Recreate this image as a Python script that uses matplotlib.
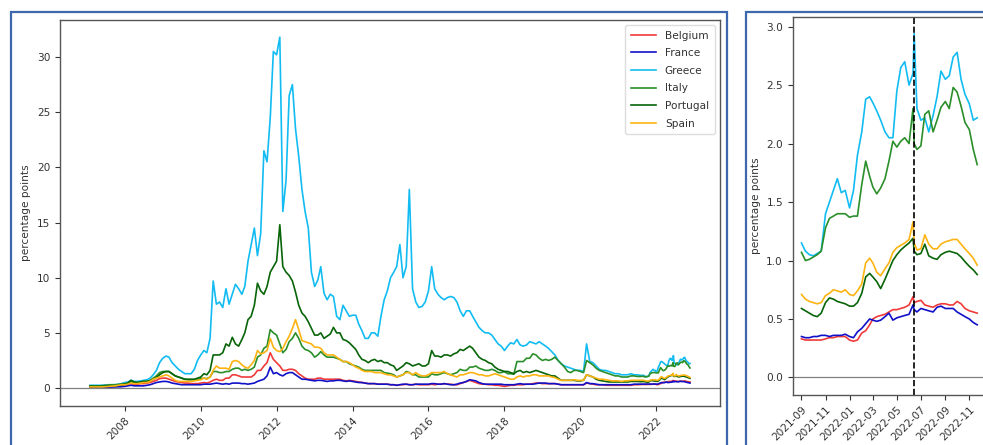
import matplotlib
matplotlib.use("Agg")
import matplotlib.pyplot as plt
import matplotlib.dates as mdates
from matplotlib.patches import Rectangle
import pandas as pd

countries = ["Belgium", "France", "Greece", "Italy", "Portugal", "Spain"]
line_colors = ["#f03a3a", "#1010c8", "#12bcf2", "#2a8f2a", "#086408", "#fdb412"]

# ---- long history, monthly, 2007-02 .. 2021-08 ----
long_start = "2007-02-01"
long_end = "2021-08-01"

belgium_m = [
    0.05, 0.05, 0.05, 0.05, 0.07, 0.10, 0.12, 0.15, 0.15, 0.18, 0.20,
    0.25, 0.30, 0.40, 0.35, 0.35, 0.40, 0.40, 0.45, 0.50, 0.60, 0.70, 0.85,
    0.90, 0.90, 0.80, 0.70, 0.60, 0.55, 0.50, 0.45, 0.45, 0.40, 0.40, 0.40,
    0.45, 0.50, 0.45, 0.55, 0.70, 0.80, 0.70, 0.70, 0.90, 0.90, 1.20, 1.20,
    1.10, 1.00, 1.00, 1.00, 1.00, 1.20, 1.60, 1.60, 2.00, 2.30, 3.20, 2.60,
    2.30, 2.00, 1.60, 1.60, 1.70, 1.70, 1.60, 1.30, 1.10, 0.90, 0.80, 0.80,
    0.80, 0.90, 0.90, 0.80, 0.80, 0.80, 0.80, 0.80, 0.80, 0.70, 0.65, 0.70,
    0.65, 0.60, 0.55, 0.50, 0.45, 0.40, 0.40, 0.40, 0.35, 0.35, 0.35, 0.35,
    0.30, 0.30, 0.25, 0.30, 0.30, 0.35, 0.30, 0.30, 0.35, 0.30, 0.30, 0.30,
    0.30, 0.35, 0.30, 0.35, 0.35, 0.40, 0.35, 0.35, 0.30, 0.30, 0.40, 0.50,
    0.60, 0.70, 0.60, 0.50, 0.40, 0.35, 0.35, 0.30, 0.30, 0.25, 0.25, 0.20,
    0.15, 0.20, 0.25, 0.25, 0.30, 0.30, 0.30, 0.35, 0.35, 0.40, 0.45, 0.45,
    0.40, 0.40, 0.40, 0.40, 0.40, 0.35, 0.30, 0.30, 0.30, 0.30, 0.30, 0.30,
    0.30, 0.30, 0.45, 0.40, 0.35, 0.30, 0.30, 0.30, 0.25, 0.25, 0.25, 0.25,
    0.25, 0.25, 0.25, 0.25, 0.25, 0.30, 0.30, 0.32,
]
france_m = [
    0.05, 0.05, 0.05, 0.05, 0.05, 0.07, 0.08, 0.10, 0.10, 0.10, 0.12,
    0.15, 0.20, 0.25, 0.20, 0.20, 0.20, 0.20, 0.25, 0.30, 0.40, 0.50, 0.55,
    0.60, 0.60, 0.55, 0.45, 0.40, 0.35, 0.30, 0.30, 0.30, 0.30, 0.30, 0.30,
    0.30, 0.35, 0.35, 0.35, 0.40, 0.45, 0.40, 0.35, 0.40, 0.35, 0.45, 0.45,
    0.45, 0.40, 0.40, 0.35, 0.40, 0.45, 0.60, 0.70, 0.80, 1.10, 1.90, 1.30,
    1.40, 1.20, 1.10, 1.30, 1.40, 1.40, 1.20, 1.00, 0.80, 0.80, 0.75, 0.70,
    0.65, 0.70, 0.70, 0.65, 0.60, 0.65, 0.65, 0.70, 0.70, 0.65, 0.60, 0.65,
    0.60, 0.55, 0.50, 0.50, 0.45, 0.40, 0.40, 0.40, 0.35, 0.35, 0.35, 0.35,
    0.30, 0.30, 0.25, 0.30, 0.35, 0.35, 0.30, 0.30, 0.35, 0.35, 0.35, 0.35,
    0.35, 0.40, 0.40, 0.35, 0.35, 0.40, 0.35, 0.30, 0.30, 0.35, 0.45, 0.50,
    0.60, 0.75, 0.70, 0.65, 0.50, 0.40, 0.35, 0.35, 0.35, 0.35, 0.35, 0.35,
    0.30, 0.30, 0.30, 0.30, 0.35, 0.40, 0.35, 0.35, 0.35, 0.35, 0.40, 0.45,
    0.45, 0.45, 0.40, 0.40, 0.40, 0.35, 0.30, 0.30, 0.30, 0.30, 0.30, 0.30,
    0.30, 0.30, 0.50, 0.40, 0.40, 0.35, 0.30, 0.30, 0.30, 0.30, 0.30, 0.30,
    0.30, 0.30, 0.30, 0.30, 0.30, 0.35, 0.35, 0.35,
]
greece_m = [
    0.25, 0.25, 0.25, 0.25, 0.25, 0.28, 0.30, 0.30, 0.30, 0.35, 0.40,
    0.50, 0.55, 0.70, 0.60, 0.60, 0.65, 0.70, 0.75, 0.90, 1.20, 1.60, 2.30,
    2.70, 2.90, 2.80, 2.30, 2.00, 1.70, 1.50, 1.30, 1.30, 1.30, 1.70, 2.50,
    3.00, 3.40, 3.20, 4.50, 9.70, 7.60, 7.80, 7.30, 9.00, 7.60, 8.50, 9.40,
    9.00, 8.50, 9.20, 11.50, 13.00, 14.50, 12.00, 14.00, 21.50, 20.50, 24.50, 30.50,
    30.20, 31.80, 16.00, 18.80, 26.50, 27.50, 23.50, 21.00, 18.00, 16.00, 14.50, 10.50,
    9.20, 9.80, 11.00, 8.60, 8.00, 8.50, 8.30, 6.50, 6.20, 7.50, 7.00, 6.50,
    6.60, 6.60, 5.80, 5.20, 4.50, 4.50, 5.00, 5.00, 4.70, 6.50, 8.00, 8.80,
    10.00, 10.50, 11.00, 13.00, 10.00, 11.00, 18.00, 9.00, 7.80, 7.30, 7.40, 7.80,
    8.80, 11.00, 9.00, 8.50, 8.20, 8.00, 8.20, 8.30, 8.20, 7.80, 7.00, 6.50,
    7.00, 7.00, 6.50, 6.00, 5.50, 5.20, 5.00, 5.00, 4.80, 4.40, 4.00, 3.80,
    3.40, 3.80, 4.10, 4.00, 4.40, 3.90, 3.80, 3.90, 4.20, 4.10, 4.00, 4.20,
    4.00, 3.80, 3.60, 3.30, 3.00, 2.50, 2.20, 2.00, 1.90, 1.80, 1.70, 1.60,
    1.60, 1.50, 4.00, 2.40, 2.30, 2.00, 1.70, 1.60, 1.60, 1.50, 1.40, 1.30,
    1.30, 1.20, 1.20, 1.20, 1.30, 1.20, 1.20, 1.15,
]
italy_m = [
    0.20, 0.20, 0.20, 0.20, 0.22, 0.25, 0.28, 0.30, 0.30, 0.33, 0.38,
    0.40, 0.45, 0.60, 0.50, 0.50, 0.55, 0.60, 0.60, 0.70, 0.90, 1.10, 1.40,
    1.50, 1.50, 1.50, 1.30, 1.10, 1.00, 0.90, 0.80, 0.75, 0.75, 0.75, 0.80,
    0.85, 0.90, 0.85, 1.00, 1.50, 1.50, 1.40, 1.40, 1.50, 1.50, 1.70, 1.80,
    1.80, 1.60, 1.70, 1.60, 1.70, 1.90, 2.80, 3.00, 3.60, 3.80, 5.30, 5.00,
    4.80, 4.00, 3.20, 3.50, 4.20, 4.50, 5.00, 4.50, 3.80, 3.50, 3.40, 3.20,
    2.80, 3.00, 3.30, 3.00, 2.80, 2.80, 2.80, 2.70, 2.60, 2.40, 2.40, 2.20,
    2.10, 2.00, 1.90, 1.70, 1.60, 1.60, 1.60, 1.60, 1.60, 1.60, 1.40, 1.35,
    1.30, 1.20, 1.00, 1.10, 1.20, 1.50, 1.40, 1.20, 1.20, 1.00, 1.00, 1.00,
    1.00, 1.30, 1.20, 1.20, 1.30, 1.40, 1.30, 1.20, 1.30, 1.40, 1.70, 1.60,
    1.60, 1.90, 1.90, 2.00, 1.80, 1.70, 1.60, 1.60, 1.70, 1.60, 1.40, 1.40,
    1.50, 1.30, 1.30, 1.25, 2.40, 2.40, 2.40, 2.70, 2.70, 3.10, 3.00, 2.70,
    2.50, 2.60, 2.50, 2.60, 2.80, 2.50, 2.20, 1.90, 1.50, 1.40, 1.60, 1.60,
    1.50, 1.40, 2.50, 2.30, 2.10, 1.80, 1.60, 1.50, 1.40, 1.30, 1.20, 1.10,
    1.10, 1.00, 1.00, 1.00, 1.10, 1.10, 1.05, 1.05,
]
portugal_m = [
    0.15, 0.15, 0.15, 0.15, 0.15, 0.18, 0.20, 0.20, 0.20, 0.25, 0.30,
    0.35, 0.45, 0.70, 0.55, 0.50, 0.55, 0.60, 0.60, 0.65, 0.80, 0.95, 1.20,
    1.40, 1.50, 1.50, 1.30, 1.10, 1.00, 0.90, 0.80, 0.80, 0.80, 0.80, 0.90,
    1.00, 1.30, 1.20, 1.60, 3.00, 3.00, 3.00, 3.20, 4.00, 3.80, 4.60, 4.00,
    3.80, 4.40, 5.00, 6.20, 6.50, 7.50, 9.50, 8.80, 8.50, 9.20, 10.50, 11.00,
    11.50, 14.80, 11.00, 10.50, 10.20, 9.70, 8.70, 7.50, 6.80, 6.50, 6.00, 5.40,
    4.80, 4.80, 5.00, 4.50, 4.70, 4.90, 5.50, 5.00, 5.00, 4.40, 4.30, 4.10,
    3.80, 3.50, 3.00, 2.60, 2.50, 2.30, 2.50, 2.60, 2.40, 2.50, 2.30, 2.30,
    2.10, 2.00, 1.60, 1.80, 2.00, 2.30, 2.20, 2.00, 2.10, 2.20, 2.00, 2.00,
    2.20, 3.40, 2.90, 2.90, 2.80, 3.00, 3.00, 2.90, 3.10, 3.20, 3.50, 3.40,
    3.60, 3.80, 3.60, 3.20, 2.80, 2.60, 2.50, 2.30, 2.20, 1.90, 1.70, 1.60,
    1.50, 1.50, 1.40, 1.30, 1.50, 1.60, 1.40, 1.50, 1.40, 1.50, 1.60, 1.50,
    1.40, 1.30, 1.20, 1.10, 1.10, 0.90, 0.70, 0.70, 0.70, 0.70, 0.70, 0.65,
    0.65, 0.70, 1.20, 1.10, 1.00, 0.80, 0.70, 0.65, 0.60, 0.55, 0.55, 0.55,
    0.55, 0.55, 0.55, 0.55, 0.60, 0.60, 0.60, 0.58,
]
spain_m = [
    0.10, 0.10, 0.10, 0.10, 0.10, 0.12, 0.15, 0.18, 0.20, 0.25, 0.30,
    0.30, 0.35, 0.45, 0.40, 0.40, 0.45, 0.50, 0.50, 0.60, 0.80, 0.90, 1.00,
    1.10, 1.20, 1.10, 0.90, 0.70, 0.60, 0.60, 0.60, 0.60, 0.60, 0.65, 0.70,
    0.75, 0.90, 0.80, 1.00, 1.60, 2.00, 1.80, 1.80, 1.80, 1.70, 2.40, 2.50,
    2.40, 2.10, 1.90, 1.80, 2.10, 2.50, 3.40, 3.10, 3.20, 3.40, 4.50, 3.70,
    3.40, 3.30, 3.60, 4.20, 4.70, 5.40, 6.20, 5.30, 4.30, 4.20, 4.10, 4.00,
    3.70, 3.70, 3.60, 3.20, 3.00, 3.00, 3.00, 2.80, 2.60, 2.40, 2.40, 2.30,
    2.10, 1.90, 1.80, 1.60, 1.50, 1.50, 1.50, 1.40, 1.40, 1.40, 1.30, 1.20,
    1.20, 1.10, 1.00, 1.10, 1.20, 1.40, 1.40, 1.20, 1.40, 1.20, 1.10, 1.10,
    1.20, 1.40, 1.40, 1.40, 1.40, 1.50, 1.30, 1.20, 1.10, 1.00, 1.20, 1.20,
    1.30, 1.40, 1.40, 1.30, 1.20, 1.20, 1.10, 1.10, 1.20, 1.30, 1.20, 1.10,
    1.00, 0.90, 0.80, 0.80, 1.00, 1.10, 1.00, 1.10, 1.10, 1.20, 1.20, 1.10,
    1.10, 1.10, 1.10, 1.00, 0.95, 0.80, 0.70, 0.70, 0.70, 0.70, 0.75, 0.70,
    0.70, 0.70, 1.20, 1.10, 1.00, 0.90, 0.80, 0.80, 0.75, 0.70, 0.65, 0.65,
    0.65, 0.60, 0.65, 0.65, 0.70, 0.70, 0.70, 0.70,
]

# ---- recent period, roughly every 10 days, 2021-09 .. 2022-11 ----
recent_dates = [
    "2021-09-01", "2021-09-11", "2021-09-21", "2021-10-01", "2021-10-11", "2021-10-21",
    "2021-11-01", "2021-11-11", "2021-11-21", "2021-12-01", "2021-12-11", "2021-12-21",
    "2022-01-01", "2022-01-11", "2022-01-21", "2022-02-01", "2022-02-11", "2022-02-21",
    "2022-03-01", "2022-03-11", "2022-03-21", "2022-04-01", "2022-04-11", "2022-04-21",
    "2022-05-01", "2022-05-11", "2022-05-21", "2022-06-01", "2022-06-11", "2022-06-14",
    "2022-06-21", "2022-07-01", "2022-07-11", "2022-07-21", "2022-08-01", "2022-08-11",
    "2022-08-21", "2022-09-01", "2022-09-11", "2022-09-21", "2022-10-01", "2022-10-11",
    "2022-10-21", "2022-11-01", "2022-11-11", "2022-11-21",
]
belgium_r = [0.33, 0.32, 0.32, 0.32, 0.32, 0.32, 0.33, 0.34, 0.34, 0.35, 0.35, 0.35,
             0.32, 0.31, 0.32, 0.38, 0.40, 0.45, 0.50, 0.52, 0.53, 0.54, 0.56, 0.58,
             0.58, 0.59, 0.60, 0.62, 0.69, 0.64, 0.65, 0.66, 0.62, 0.61, 0.60, 0.62,
             0.63, 0.63, 0.62, 0.62, 0.65, 0.63, 0.59, 0.57, 0.56, 0.55]
france_r = [0.35, 0.34, 0.34, 0.35, 0.35, 0.36, 0.36, 0.35, 0.36, 0.36, 0.36, 0.37,
            0.35, 0.34, 0.39, 0.42, 0.46, 0.50, 0.49, 0.48, 0.49, 0.52, 0.55, 0.49,
            0.51, 0.52, 0.53, 0.54, 0.62, 0.58, 0.56, 0.59, 0.58, 0.57, 0.56, 0.60,
            0.61, 0.59, 0.59, 0.59, 0.56, 0.54, 0.52, 0.50, 0.47, 0.45]
greece_r = [1.15, 1.08, 1.05, 1.04, 1.06, 1.08, 1.40, 1.50, 1.60, 1.70, 1.58, 1.60,
            1.45, 1.60, 1.90, 2.10, 2.38, 2.40, 2.35, 2.28, 2.20, 2.10, 2.05, 2.05,
            2.45, 2.65, 2.70, 2.50, 2.60, 2.94, 2.30, 2.20, 2.22, 2.10, 2.24, 2.40,
            2.62, 2.55, 2.58, 2.74, 2.78, 2.55, 2.42, 2.34, 2.20, 2.22]
italy_r = [1.07, 1.00, 1.01, 1.03, 1.05, 1.08, 1.28, 1.36, 1.38, 1.40, 1.40, 1.40,
           1.37, 1.38, 1.38, 1.65, 1.85, 1.72, 1.63, 1.57, 1.62, 1.70, 1.85, 2.02,
           1.97, 2.02, 2.05, 2.00, 2.30, 2.00, 1.95, 1.98, 2.25, 2.28, 2.10, 2.20,
           2.31, 2.36, 2.30, 2.48, 2.44, 2.32, 2.18, 2.12, 1.95, 1.82]
portugal_r = [0.59, 0.57, 0.55, 0.53, 0.52, 0.55, 0.64, 0.68, 0.67, 0.65, 0.64, 0.63,
              0.61, 0.61, 0.64, 0.72, 0.86, 0.89, 0.86, 0.82, 0.76, 0.84, 0.92, 1.00,
              1.05, 1.09, 1.12, 1.15, 1.19, 1.08, 1.05, 1.06, 1.14, 1.04, 1.02, 1.01,
              1.05, 1.07, 1.08, 1.07, 1.06, 1.03, 0.99, 0.95, 0.92, 0.88]
spain_r = [0.71, 0.67, 0.65, 0.64, 0.63, 0.64, 0.70, 0.72, 0.75, 0.74, 0.73, 0.75,
           0.71, 0.70, 0.74, 0.80, 0.98, 1.02, 0.98, 0.90, 0.87, 0.93, 0.98, 1.07,
           1.11, 1.13, 1.15, 1.18, 1.33, 1.15, 1.09, 1.10, 1.22, 1.14, 1.10, 1.10,
           1.14, 1.16, 1.17, 1.18, 1.18, 1.14, 1.10, 1.06, 1.02, 0.96]

event_date = "2022-06-14"

long_series = [belgium_m, france_m, greece_m, italy_m, portugal_m, spain_m]
recent_series = [belgium_r, france_r, greece_r, italy_r, portugal_r, spain_r]

long_idx = pd.date_range(long_start, long_end, freq="MS")
recent_idx = pd.to_datetime(recent_dates)
full_idx = long_idx.append(recent_idx)

FS = 7.6
TXT = "#333333"
SP = "#555555"

fig = plt.figure(figsize=(9.83, 4.45), dpi=100)
W, H = 983.0, 445.0

# panel frames
border = "#3e68ad"
fig.patches.append(Rectangle((11 / W, -0.05), (727 - 11) / W, 1 - 12 / H + 0.05,
                             transform=fig.transFigure, fill=False,
                             edgecolor=border, linewidth=1.6))
fig.patches.append(Rectangle((746 / W, -0.05), 0.3, 1 - 12 / H + 0.05,
                             transform=fig.transFigure, fill=False,
                             edgecolor=border, linewidth=1.6))

ax1 = fig.add_axes([60 / W, 1 - 405.7 / H, 660 / W, 386.2 / H])
ax2 = fig.add_axes([792.7 / W, 1 - 395 / H, (986 - 792.7) / W, (395 - 16.7) / H])

for name, col, lvals, rvals in zip(countries, line_colors, long_series, recent_series):
    ax1.plot(full_idx, list(lvals) + list(rvals), color=col, lw=1.2, label=name)
    ax2.plot(recent_idx, rvals, color=col, lw=1.2, label=name)

for ax in (ax1, ax2):
    ax.axhline(0, color="#808080", lw=0.9)
    ax.set_ylabel("percentage points", fontsize=FS, color=TXT)
    ax.tick_params(labelsize=FS, colors=TXT, length=3.5, width=0.8)
    for s in ax.spines.values():
        s.set_color(SP)
        s.set_linewidth(1.0)

ax1.xaxis.set_major_locator(mdates.YearLocator(2))
ax1.xaxis.set_major_formatter(mdates.DateFormatter("%Y"))
ax1.set_ylim(-1.6, 33.4)
ax1.set_yticks([0, 5, 10, 15, 20, 25, 30])

ax2.xaxis.set_major_locator(mdates.MonthLocator(bymonth=[1, 3, 5, 7, 9, 11]))
ax2.xaxis.set_major_formatter(mdates.DateFormatter("%Y-%m"))
ax2.set_ylim(-0.15, 3.085)
ax2.set_yticks([0.0, 0.5, 1.0, 1.5, 2.0, 2.5, 3.0])
ax2.yaxis.set_major_formatter(matplotlib.ticker.FormatStrFormatter("%.1f"))
ax2.axvline(pd.Timestamp(event_date), color="black", ls="--", lw=1.2)

for ax in (ax1, ax2):
    for lab in ax.get_xticklabels():
        lab.set_rotation(45)
        lab.set_ha("right")
        lab.set_rotation_mode("anchor")

leg = ax1.legend(loc="upper right", fontsize=FS, labelspacing=0.72,
                 handlelength=2.4, borderpad=0.55, framealpha=1.0,
                 edgecolor="#dddddd")
for t in leg.get_texts():
    t.set_color(TXT)

fig.savefig("out.png", dpi=100)
